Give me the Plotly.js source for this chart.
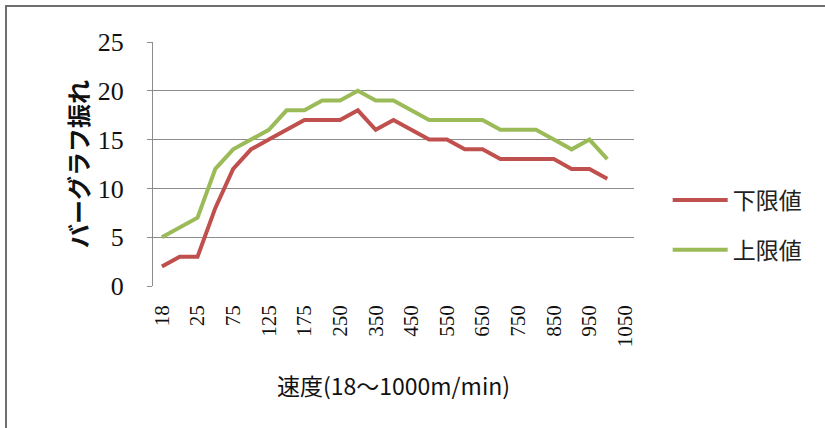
<!DOCTYPE html>
<html>
<head>
<meta charset="utf-8">
<script src="https://cdn.plot.ly/plotly-3.0.1.min.js"></script>
<style>
html,body{margin:0;padding:0;background:#fff;}
#wrap{position:relative;width:825px;height:428px;}
#chart{position:absolute;left:0;top:0;width:825px;height:428px;}
#frame{position:absolute;left:5px;top:5px;width:830px;height:440px;border-left:2px solid #6e6e6e;border-top:2px solid #6e6e6e;pointer-events:none;}
</style>
</head>
<body>
<div id="wrap"><div id="chart"></div><div id="frame"></div></div>
<script>
// Speed categories (m/min)
const categories = ['18','20','25','50','75','100','125','150','175','200','250','300','350','400','450','500','550','600','650','700','750','800','850','900','950','1000','1050'];
// Tick labels shown (every other category)
const tickLabels = ['18','25','75','125','175','250','350','450','550','650','750','850','950','1050'];
// 下限値 (lower limit)
const lowerLimit = [2,3,3,8,12,14,15,16,17,17,17,18,16,17,16,15,15,14,14,13,13,13,13,12,12,11];
// 上限値 (upper limit)
const upperLimit = [5,6,7,12,14,15,16,18,18,19,19,20,19,19,18,17,17,17,17,16,16,16,15,14,15,13];

const xData = categories.slice(0, lowerLimit.length);
const serif = 'Liberation Serif';

const traces = [
  {x: xData, y: lowerLimit, type: 'scatter', mode: 'lines', name: '下限値', legendgroup: 'a',
   line: {color: '#C0504D', width: 4}},
  {x: xData, y: upperLimit, type: 'scatter', mode: 'lines', name: '上限値', legendgroup: 'b',
   line: {color: '#9BBB59', width: 4}}
];

const layout = {
  width: 825, height: 428,
  margin: {l: 153, r: 191, t: 42, b: 142},
  paper_bgcolor: '#fff', plot_bgcolor: '#fff',
  showlegend: true,
  legend: {x: 1.07, y: 0.25, xanchor: 'left', yanchor: 'middle',
    font: {family: 'Noto Sans CJK JP', size: 23, color: '#222'},
    itemwidth: 55, traceorder: 'grouped', tracegroupgap: 17, bgcolor: 'rgba(0,0,0,0)'},
  xaxis: {
    type: 'category', categoryorder: 'array', categoryarray: categories,
    range: [-0.5, 26.5],
    tickvals: tickLabels, ticktext: tickLabels,
    tickangle: -90,
    tickfont: {family: serif, size: 21, color: '#111'},
    showgrid: false, zeroline: false, showline: false,
    ticks: '', ticklabelstandoff: 14,
    title: {text: '速度(18～1000m/min)', font: {family: 'Noto Sans CJK JP', size: 23, color: '#111'}, standoff: 32},
    automargin: false, fixedrange: true
  },
  yaxis: {
    range: [0, 25], dtick: 5, tick0: 0,
    tickfont: {family: serif, size: 26, color: '#111'},
    showgrid: true, gridcolor: '#8c8c8c', gridwidth: 1,
    zeroline: false, showline: true, linecolor: '#8c8c8c', linewidth: 1,
    ticks: 'outside', ticklen: 5, tickcolor: '#8c8c8c', ticklabelstandoff: 18,
    title: {text: 'バーグラフ振れ', font: {family: 'Noto Sans CJK JP', size: 24, color: '#111', weight: 'bold'}, standoff: 2},
    automargin: false, fixedrange: true
  }
};

Plotly.newPlot('chart', traces, layout, {displayModeBar: false, staticPlot: true});
</script>
</body>
</html>
